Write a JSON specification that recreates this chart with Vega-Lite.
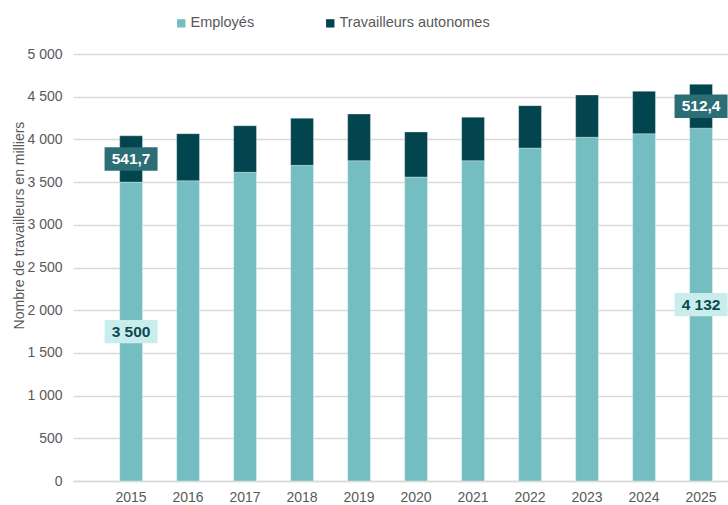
{
  "$schema": "https://vega.github.io/schema/vega-lite/v6.json",
  "width": 655,
  "height": 427,
  "autosize": {"type": "none"},
  "padding": {"left": 73, "top": 54, "right": 0, "bottom": 24},
  "background": "white",
  "config": {
    "view": {"stroke": null},
    "font": "Liberation Sans",
    "locale": {"number": {"decimal": ",", "thousands": " ", "grouping": [3], "currency": ["", ""]}}
  },
  "data": {
    "values": [
      {"year": "2015", "type": "Employés", "value": 3500},
      {"year": "2015", "type": "Travailleurs autonomes", "value": 541.7},
      {"year": "2016", "type": "Employés", "value": 3516},
      {"year": "2016", "type": "Travailleurs autonomes", "value": 551},
      {"year": "2017", "type": "Employés", "value": 3615},
      {"year": "2017", "type": "Travailleurs autonomes", "value": 545},
      {"year": "2018", "type": "Employés", "value": 3697},
      {"year": "2018", "type": "Travailleurs autonomes", "value": 550},
      {"year": "2019", "type": "Employés", "value": 3751},
      {"year": "2019", "type": "Travailleurs autonomes", "value": 546},
      {"year": "2020", "type": "Employés", "value": 3560},
      {"year": "2020", "type": "Travailleurs autonomes", "value": 527},
      {"year": "2021", "type": "Employés", "value": 3751},
      {"year": "2021", "type": "Travailleurs autonomes", "value": 508},
      {"year": "2022", "type": "Employés", "value": 3899},
      {"year": "2022", "type": "Travailleurs autonomes", "value": 496},
      {"year": "2023", "type": "Employés", "value": 4025},
      {"year": "2023", "type": "Travailleurs autonomes", "value": 495},
      {"year": "2024", "type": "Employés", "value": 4067},
      {"year": "2024", "type": "Travailleurs autonomes", "value": 496},
      {"year": "2025", "type": "Employés", "value": 4132},
      {"year": "2025", "type": "Travailleurs autonomes", "value": 512.4}
    ]
  },
  "encoding": {
    "x": {
      "field": "year",
      "type": "ordinal",
      "title": null,
      "scale": {"paddingInner": 0.6, "paddingOuter": 0.546, "align": 0.75},
      "axis": {
        "labelAngle": 0,
        "labelFontSize": 14,
        "labelColor": "#595959",
        "labelPadding": 9,
        "ticks": false,
        "domainColor": "#D9D9D9",
        "domainWidth": 1.5,
        "grid": false
      }
    }
  },
  "layer": [
    {
      "mark": {"type": "bar", "stroke": "#FFFFFF", "strokeWidth": 0.5, "strokeOpacity": 0.6},
      "encoding": {
        "y": {
          "field": "value",
          "type": "quantitative",
          "stack": "zero",
          "title": "Nombre de travailleurs en milliers",
          "scale": {"domain": [0, 5000], "nice": false},
          "axis": {
            "values": [0, 500, 1000, 1500, 2000, 2500, 3000, 3500, 4000, 4500, 5000],
            "format": ",.0f",
            "labelFontSize": 14,
            "labelColor": "#595959",
            "ticks": false,
            "tickSize": 0,
            "labelPadding": 11,
            "domain": false,
            "gridColor": "#D9D9D9",
            "gridWidth": 1.3,
            "titleFontSize": 14,
            "titleFontWeight": "normal",
            "titleColor": "#595959",
            "titleX": -54,
            "titleY": 171,
            "titleBaseline": "middle"
          }
        },
        "order": {"field": "type", "sort": "ascending"},
        "color": {
          "field": "type",
          "type": "nominal",
          "scale": {"domain": ["Employés", "Travailleurs autonomes"], "range": ["#74BEC1", "#03454F"]},
          "legend": {
            "title": null,
            "orient": "none",
            "direction": "horizontal",
            "legendX": 101,
            "legendY": -38,
            "symbolType": "square",
            "symbolSize": 70,
            "symbolStrokeWidth": 0,
            "labelFontSize": 14.5,
            "labelColor": "#595959",
            "labelOffset": 2,
            "columnPadding": 68,
            "padding": 0
          }
        }
      }
    },
    {
      "transform": [
        {"stack": "value", "groupby": ["year"], "sort": [{"field": "type"}], "as": ["v0", "v1"]},
        {"calculate": "(datum.v0 + datum.v1) / 2", "as": "mid"},
        {"filter": "datum.year === '2015' || datum.year === '2025'"}
      ],
      "mark": {"type": "point", "shape": "M-1,-0.44H1V0.44H-1Z", "size": 2809, "filled": true, "opacity": 1},
      "encoding": {
        "y": {"field": "mid", "type": "quantitative", "title": "Nombre de travailleurs en milliers"},
        "fill": {"condition": {"test": "datum.type === 'Employés'", "value": "#C9EDEC"}, "value": "#2C6E75"}
      }
    },
    {
      "transform": [
        {"stack": "value", "groupby": ["year"], "sort": [{"field": "type"}], "as": ["v0", "v1"]},
        {"calculate": "(datum.v0 + datum.v1) / 2", "as": "mid"},
        {"filter": "(datum.year === '2015' || datum.year === '2025') && datum.type === 'Employés'"}
      ],
      "mark": {"type": "text", "fontWeight": "bold", "fontSize": 15.5, "baseline": "middle", "align": "center", "color": "#0E4850"},
      "encoding": {
        "y": {"field": "mid", "type": "quantitative", "title": "Nombre de travailleurs en milliers"},
        "text": {"field": "value", "type": "quantitative", "format": ",.0f"}
      }
    },
    {
      "transform": [
        {"stack": "value", "groupby": ["year"], "sort": [{"field": "type"}], "as": ["v0", "v1"]},
        {"calculate": "(datum.v0 + datum.v1) / 2", "as": "mid"},
        {"filter": "(datum.year === '2015' || datum.year === '2025') && datum.type !== 'Employés'"}
      ],
      "mark": {"type": "text", "fontWeight": "bold", "fontSize": 15.5, "baseline": "middle", "align": "center", "color": "#FFFFFF"},
      "encoding": {
        "y": {"field": "mid", "type": "quantitative", "title": "Nombre de travailleurs en milliers"},
        "text": {"field": "value", "type": "quantitative", "format": ",.1f"}
      }
    }
  ]
}
